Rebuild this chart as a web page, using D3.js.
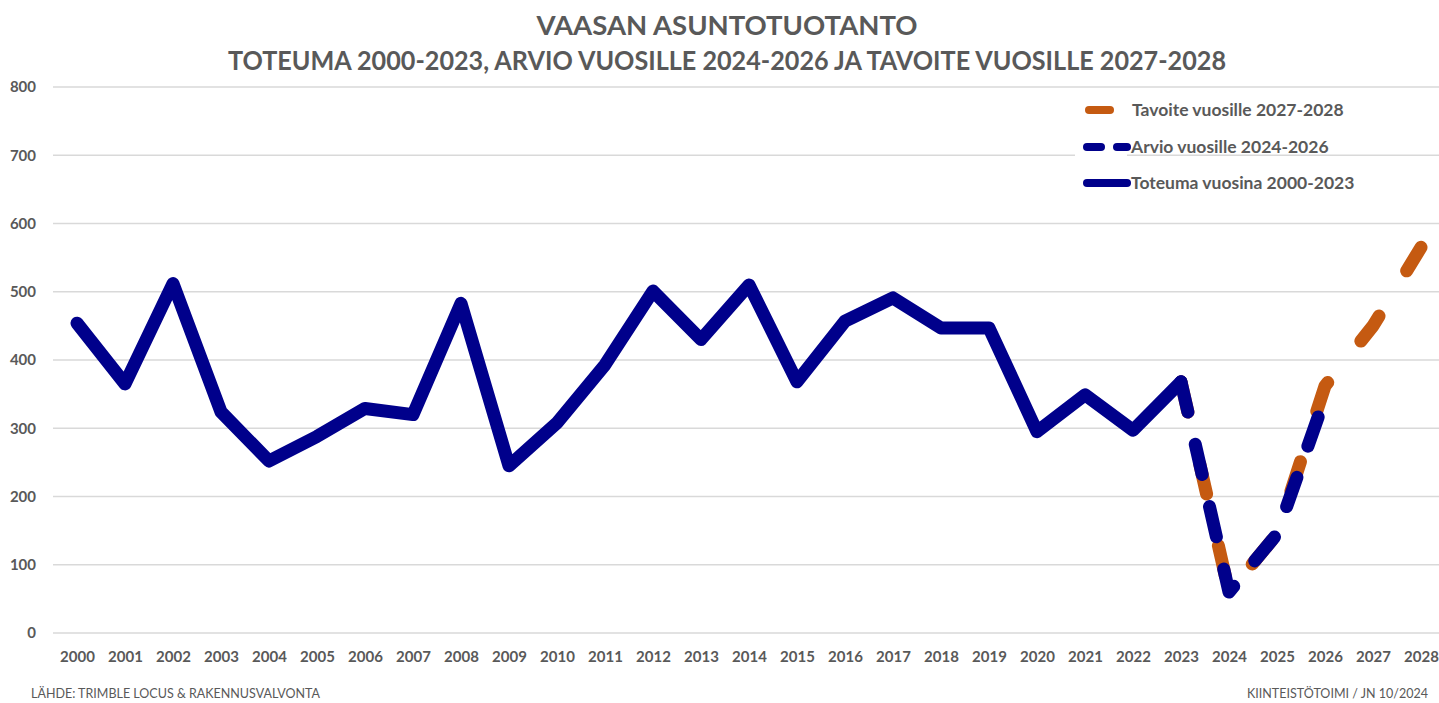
<!DOCTYPE html>
<html>
<head>
<meta charset="utf-8">
<script src="https://cdn.jsdelivr.net/npm/d3@7"></script>
<style>
  body { margin: 0; background: #fff; }
  text { font-family: Lato, "Open Sans", sans-serif; fill: #595959; }
</style>
</head>
<body>
<div id="chart-container"></div>
<script>
// Data
const years = ["2000","2001","2002","2003","2004","2005","2006","2007","2008","2009",
  "2010","2011","2012","2013","2014","2015","2016","2017","2018","2019",
  "2020","2021","2022","2023","2024","2025","2026","2027","2028"]

const toteumaYears = years.slice(0, 24)
const toteuma = [454, 365, 512, 324, 252, 288, 329, 320, 483, 245, 308, 393, 501, 430,
  510, 368, 457, 491, 447, 447, 295, 349, 297, 368]

const arvioYears = ["2023","2024","2025","2026"]
const arvio = [368, 60, 145, 345]

const tavoiteYears = ["2023","2024","2025","2026","2027","2028"]
const tavoite = [368, 60, 145, 362, 450, 565]

const yTicks = [0, 100, 200, 300, 400, 500, 600, 700, 800]

const legendItems = [
  { name: "Tavoite vuosille 2027-2028", color: "#C55A11", type: "orange" },
  { name: "Arvio vuosille 2024-2026", color: "#00008B", type: "dash" },
  { name: "Toteuma vuosina 2000-2023", color: "#00008B", type: "solid" }
]

const W = 1439, H = 703
const plot = { left: 53, right: 1445, top: 87, bottom: 633 }

const svg = d3.select("#chart-container")
  .append("svg")
  .attr("width", W)
  .attr("height", H)

const x = d3.scalePoint()
  .domain(years)
  .range([plot.left, plot.right])
  .padding(0.5)

const y = d3.scaleLinear()
  .domain([0, 800])
  .range([plot.bottom, plot.top])

// gridlines
svg.append("g")
  .selectAll("line")
  .data(yTicks)
  .enter().append("line")
  .attr("x1", plot.left)
  .attr("x2", W)
  .attr("y1", d => y(d))
  .attr("y2", d => y(d))
  .attr("stroke", "#d9d9d9")
  .attr("stroke-width", 1.3)

// y axis labels
const yAxis = svg.append("g")
  .attr("transform", `translate(${plot.left - 5},0)`)
  .call(d3.axisLeft(y).tickValues(yTicks).tickSize(0).tickPadding(12))
yAxis.select(".domain").remove()
yAxis.selectAll("text")
  .style("font-family", "Lato, sans-serif")
  .style("font-size", "15px")
  .style("font-weight", "700")
  .attr("fill", "#595959")

// x axis labels
const xAxis = svg.append("g")
  .attr("transform", `translate(0,${plot.bottom})`)
  .call(d3.axisBottom(x).tickSize(0).tickPadding(18))
xAxis.select(".domain").remove()
xAxis.selectAll("text")
  .style("font-family", "Lato, sans-serif")
  .style("font-size", "15px")
  .style("font-weight", "700")
  .attr("fill", "#595959")

const line = d3.line()
  .x(d => x(d.year))
  .y(d => y(d.value))

const zip = (ys, vs) => ys.map((yr, i) => ({ year: yr, value: vs[i] }))

// Tavoite (orange, dashed)
svg.append("path")
  .datum(zip(tavoiteYears, tavoite))
  .attr("d", line)
  .attr("fill", "none")
  .attr("stroke", "#C55A11")
  .attr("stroke-width", 13)
  .attr("stroke-linecap", "round")
  .attr("stroke-linejoin", "round")
  .attr("stroke-dasharray", "31,53")

// Arvio (blue, dashed)
svg.append("path")
  .datum(zip(arvioYears, arvio))
  .attr("d", line)
  .attr("fill", "none")
  .attr("stroke", "#00008B")
  .attr("stroke-width", 13)
  .attr("stroke-linecap", "round")
  .attr("stroke-linejoin", "round")
  .attr("stroke-dasharray", "31,33")
  .attr("stroke-dashoffset", 0)

// Toteuma (blue, solid)
svg.append("path")
  .datum(zip(toteumaYears, toteuma))
  .attr("d", line)
  .attr("fill", "none")
  .attr("stroke", "#00008B")
  .attr("stroke-width", 13)
  .attr("stroke-linecap", "round")
  .attr("stroke-linejoin", "round")

// Legend
const legend = svg.append("g").attr("transform", "translate(1083,0)")
legend.append("rect")
  .attr("x", -8).attr("y", 95).attr("width", 52).attr("height", 100)
  .attr("fill", "#fff")

const legendY = [110, 147, 183]
legendItems.forEach((item, i) => {
  const g = legend.append("g").attr("transform", `translate(0,${legendY[i]})`)
  const seg = (x1, x2) => g.append("line")
    .attr("x1", x1).attr("x2", x2).attr("y1", 0).attr("y2", 0)
    .attr("stroke", item.color)
    .attr("stroke-width", 8)
    .attr("stroke-linecap", "round")
  if (item.type === "orange") seg(6, 27)
  else if (item.type === "dash") { seg(4, 18); seg(34, 44) }
  else seg(4, 44)
  g.append("text")
    .attr("x", item.type === "orange" ? 49 : 48)
    .attr("y", 0)
    .attr("dy", "0.35em")
    .style("font-size", "17.5px")
    .style("font-weight", "700")
    .text(item.name)
})

// Titles
svg.append("text")
  .attr("x", 727)
  .attr("y", 35)
  .attr("text-anchor", "middle")
  .attr("textLength", 381)
  .attr("lengthAdjust", "spacingAndGlyphs")
  .style("font-size", "27px")
  .style("font-weight", "700")
  .text("VAASAN ASUNTOTUOTANTO")

svg.append("text")
  .attr("x", 727)
  .attr("y", 70)
  .attr("text-anchor", "middle")
  .attr("textLength", 998)
  .attr("lengthAdjust", "spacingAndGlyphs")
  .style("font-size", "27px")
  .style("font-weight", "700")
  .text("TOTEUMA 2000-2023, ARVIO VUOSILLE 2024-2026 JA TAVOITE VUOSILLE 2027-2028")

// Footer
svg.append("text")
  .attr("x", 31)
  .attr("y", 698)
  .attr("textLength", 289)
  .attr("lengthAdjust", "spacingAndGlyphs")
  .style("font-size", "13px")
  .text("LÄHDE: TRIMBLE LOCUS & RAKENNUSVALVONTA")

svg.append("text")
  .attr("x", 1428)
  .attr("y", 698)
  .attr("text-anchor", "end")
  .attr("textLength", 181)
  .attr("lengthAdjust", "spacingAndGlyphs")
  .style("font-size", "13px")
  .text("KIINTEISTÖTOIMI / JN 10/2024")
</script>
</body>
</html>
